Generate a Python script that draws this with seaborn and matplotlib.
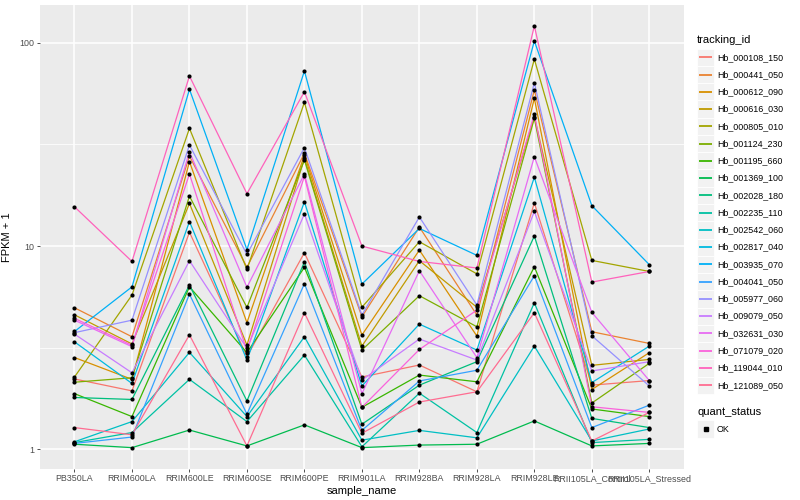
import numpy as np
import pandas as pd
import matplotlib
matplotlib.use('Agg')
import matplotlib.pyplot as plt
from matplotlib.lines import Line2D
from matplotlib.patches import Rectangle
import seaborn as sns

samples = ['PB350LA', 'RRIM600LA', 'RRIM600LE', 'RRIM600SE', 'RRIM600PE', 'RRIM901LA',
           'RRIM928BA', 'RRIM928LA', 'RRIM928LE', 'RRII105LA_Control', 'RRII105LA_Stressed']

tracking_ids = ['Hb_000108_150', 'Hb_000441_050', 'Hb_000612_090', 'Hb_000616_030',
                'Hb_000805_010', 'Hb_001124_230', 'Hb_001195_660', 'Hb_001369_100',
                'Hb_002028_180', 'Hb_002235_110', 'Hb_002542_060', 'Hb_002817_040',
                'Hb_003935_070', 'Hb_004041_050', 'Hb_005977_060', 'Hb_009079_050',
                'Hb_032631_030', 'Hb_071079_020', 'Hb_119044_010', 'Hb_121089_050']

# ggplot hue palette, 20 levels
colors = ['#F8766D', '#EA8331', '#D89000', '#C09B00', '#A3A500', '#7CAE00', '#39B600',
          '#00BB4E', '#00BF7D', '#00C1A3', '#00BFC4', '#00BAE0', '#00B0F6', '#35A2FF',
          '#9590FF', '#C77CFF', '#E76BF3', '#FA62DB', '#FF62BC', '#FF6C91']

# FPKM + 1, one list per gene, in sample order
hb_000108_150 = [2.22, 1.94, 11.7, 2.86, 9.27, 2.27, 2.6, 1.92, 16.3, 2.07, 2.18]
hb_000441_050 = [4.97, 3.58, 27.7, 7.86, 28.6, 4.49, 12.4, 4.58, 58.5, 3.79, 3.32]
hb_000612_090 = [2.83, 2.21, 26.0, 4.2, 28.0, 3.65, 9.55, 3.61, 53.3, 1.97, 2.99]
hb_000616_030 = [4.59, 3.3, 16.2, 3.26, 27.0, 3.22, 8.47, 5.0, 43.3, 2.59, 2.77]
hb_000805_010 = [2.27, 5.74, 37.9, 7.68, 50.9, 5.0, 10.5, 7.3, 83.0, 8.5, 7.5]
hb_001124_230 = [2.14, 2.25, 17.6, 4.99, 26.5, 3.08, 5.7, 4.01, 42.5, 1.69, 2.65]
hb_001195_660 = [1.88, 1.45, 6.3, 2.99, 7.86, 1.61, 2.32, 2.15, 7.91, 1.58, 1.45]
hb_001369_100 = [1.06, 1.02, 1.245, 1.04, 1.32, 1.02, 1.05, 1.06, 1.38, 1.04, 1.07]
hb_002028_180 = [1.80, 1.76, 6.43, 1.73, 8.37, 1.33, 2.07, 2.7, 11.2, 1.42, 1.28]
hb_002235_110 = [1.08, 1.21, 2.21, 1.37, 2.91, 1.03, 1.89, 1.21, 5.26, 1.08, 1.12]
hb_002542_060 = [1.09, 1.37, 3.0, 1.45, 3.58, 1.11, 1.24, 1.14, 3.22, 1.1, 1.26]
hb_002817_040 = [3.38, 2.11, 13.2, 2.75, 16.5, 2.05, 4.13, 3.08, 21.8, 2.13, 3.22]
hb_003935_070 = [3.8, 6.3, 59.0, 9.6, 72.6, 6.5, 12.2, 9.0, 102.0, 15.8, 8.1]
hb_004041_050 = [1.07, 1.15, 5.8, 1.49, 6.53, 1.24, 2.17, 2.45, 7.14, 1.28, 1.65]
hb_005977_060 = [3.75, 4.32, 31.4, 9.1, 30.5, 4.58, 13.9, 5.13, 63.5, 3.62, 2.05]
hb_009079_050 = [3.69, 2.38, 8.47, 3.14, 14.4, 2.19, 3.49, 2.75, 14.8, 2.43, 2.7]
hb_032631_030 = [4.32, 3.2, 29.1, 6.27, 22.6, 1.88, 7.56, 2.83, 27.5, 4.72, 2.18]
hb_071079_020 = [4.41, 3.25, 22.6, 3.05, 22.0, 1.61, 3.1, 4.84, 44.5, 1.62, 1.52]
hb_119044_010 = [15.6, 8.4, 68.6, 18.1, 57.4, 10.0, 8.4, 7.8, 121.0, 6.65, 7.5]
hb_121089_050 = [1.28, 1.18, 3.66, 1.04, 4.7, 1.2, 1.71, 1.92, 4.7, 1.1, 1.52]

series = [hb_000108_150, hb_000441_050, hb_000612_090, hb_000616_030, hb_000805_010,
          hb_001124_230, hb_001195_660, hb_001369_100, hb_002028_180, hb_002235_110,
          hb_002542_060, hb_002817_040, hb_003935_070, hb_004041_050, hb_005977_060,
          hb_009079_050, hb_032631_030, hb_071079_020, hb_119044_010, hb_121089_050]

rows = []
for tid, vals in zip(tracking_ids, series):
    for i, v in enumerate(vals):
        rows.append({'tracking_id': tid, 'pos': i, 'sample_name': samples[i], 'fpkm1': v})
df = pd.DataFrame(rows)

W, H = 800, 500
fig = plt.figure(figsize=(8, 5), dpi=100)
ax = fig.add_axes([40 / W, 1 - 468.7 / H, (683.8 - 40) / W, (468.7 - 4.7) / H])

ax.set_facecolor('#EBEBEB')
for s in ax.spines.values():
    s.set_visible(False)

ax.set_yscale('log')
ax.set_xlim(-0.6, len(samples) - 0.4)
ax.set_ylim(10 ** -0.095, 10 ** 2.187)

# ggplot-like grid
for v in [10 ** 0.5, 10 ** 1.5]:
    ax.axhline(v, color='white', lw=0.55, zorder=0)
for v in [1, 10, 100]:
    ax.axhline(v, color='white', lw=1.1, zorder=0)
for i in range(len(samples)):
    ax.axvline(i, color='white', lw=1.1, zorder=0)

sns.lineplot(data=df, x='pos', y='fpkm1', hue='tracking_id', hue_order=tracking_ids,
             palette=colors, linewidth=0.9, sort=False, estimator=None,
             legend=False, ax=ax, zorder=2)
sns.scatterplot(data=df, x='pos', y='fpkm1', color='black', s=9, marker='o',
                linewidth=0, legend=False, ax=ax, zorder=3)

ax.set_yticks([1, 10, 100])
ax.set_yticklabels(['1', '10', '100'])
ax.yaxis.set_minor_locator(matplotlib.ticker.NullLocator())
ax.set_xticks(range(len(samples)))
ax.set_xticklabels(samples)
ax.tick_params(axis='both', length=2.5, width=0.6, color='#333333',
               labelcolor='#4D4D4D', labelsize=6.4, pad=1.5, labelfontfamily='Liberation Sans')
ax.set_xlabel('sample_name', fontsize=8, family='Liberation Sans', labelpad=2)
ax.set_ylabel('FPKM + 1', fontsize=8, family='Liberation Sans', labelpad=5)


def fx(px):
    return px / W


def fy(py):
    return 1 - py / H


# legend: tracking_id
fig.text(fx(697), fy(40), 'tracking_id', fontsize=8, family='Liberation Sans',
         va='center', ha='left')
step = 17.26
for k, (tid, c) in enumerate(zip(tracking_ids, colors)):
    yc = 57.3 + k * step
    fig.add_artist(Rectangle((fx(697), fy(yc + step / 2)), 17 / W, step / H,
                             transform=fig.transFigure, facecolor='#F2F2F2',
                             edgecolor='white', lw=0.6, zorder=1))
    fig.add_artist(Line2D([fx(699), fx(712)], [fy(yc), fy(yc)], color=c, lw=1.3,
                          solid_capstyle='butt', transform=fig.transFigure, zorder=5))
    fig.text(fx(717), fy(yc), tid, fontsize=6.4, family='Liberation Sans',
             va='center', ha='left')

# legend: quant_status
fig.text(fx(697), fy(412), 'quant_status', fontsize=8, family='Liberation Sans',
         va='center', ha='left')
fig.add_artist(Rectangle((fx(697), fy(429 + step / 2)), 17 / W, step / H,
                         transform=fig.transFigure, facecolor='#F2F2F2',
                         edgecolor='white', lw=0.6, zorder=1))
fig.add_artist(Line2D([fx(705.5)], [fy(429)], marker='s', markersize=2.6, color='black',
                      linestyle='none', transform=fig.transFigure, zorder=5))
fig.text(fx(717), fy(429), 'OK', fontsize=6.4, family='Liberation Sans',
         va='center', ha='left')

fig.savefig('out.png', dpi=100, facecolor='white')
